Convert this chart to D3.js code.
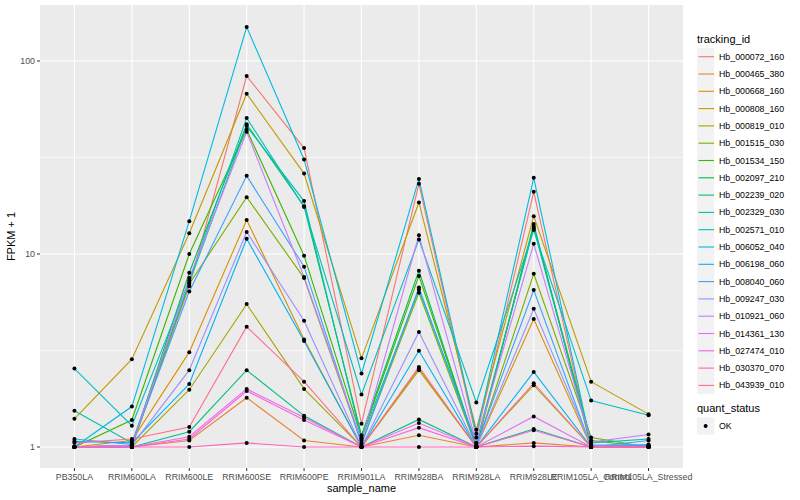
<!DOCTYPE html>
<html><head><meta charset="utf-8">
<script src="https://cdn.jsdelivr.net/npm/d3@7"></script>
<style>body{margin:0;background:#fff}svg{display:block;font-family:"Liberation Sans",Arial,sans-serif}</style>
</head><body><svg id="c" width="800" height="500"></svg>
<script>
const categories = ["PB350LA","RRIM600LA","RRIM600LE","RRIM600SE","RRIM600PE","RRIM901LA","RRIM928BA","RRIM928LA","RRIM928LE","RRIM105LA_Control","RRIM105LA_Stressed"];
const trackingIds = ["Hb_000072_160","Hb_000465_380","Hb_000668_160","Hb_000808_160","Hb_000819_010","Hb_001515_030","Hb_001534_150","Hb_002097_210","Hb_002239_020","Hb_002329_030","Hb_002571_010","Hb_006052_040","Hb_006198_060","Hb_008040_060","Hb_009247_030","Hb_010921_060","Hb_014361_130","Hb_027474_010","Hb_030370_070","Hb_043939_010"];
const colors = ["#F8766D","#EA8331","#D89000","#C09B00","#A3A500","#7CAE00","#39B600","#00BB4E","#00BF7D","#00C1A3","#00BFC4","#00BAE0","#00B0F6","#35A2FF","#9590FF","#C77CFF","#E76BF3","#FA62DB","#FF62BC","#FF6C91"];
// FPKM + 1 per series, in category order
const s01 = [1.00,1.02,6.8,83.6,35.4,1.32,23.1,1.12,21.0,1.00,1.00];
const s02 = [1.00,1.00,1.08,1.8,1.08,1.00,1.15,1.00,1.05,1.00,1.00];
const s03 = [1.00,1.08,3.1,15.0,3.61,1.00,2.56,1.00,4.6,1.00,1.00];
const s04 = [1.40,2.85,12.8,67.7,26.1,2.88,18.5,1.23,15.7,2.18,1.48];
const s05 = [1.00,1.00,1.98,5.5,2.0,1.00,2.50,1.00,2.09,1.00,1.00];
const s06 = [1.00,1.00,7.0,19.7,7.5,1.05,6.3,1.00,7.9,1.12,1.00];
const s07 = [1.00,1.38,10.0,44.0,9.8,1.12,7.7,1.00,13.9,1.08,1.00];
const s08 = [1.00,1.02,8.0,47.0,17.7,1.15,8.2,1.00,14.3,1.00,1.02];
const s09 = [1.00,1.00,1.2,2.5,1.45,1.00,1.39,1.00,1.24,1.00,1.00];
const s10 = [1.54,1.05,7.1,46.0,18.8,1.10,6.55,1.05,13.6,1.05,1.10];
const s11 = [2.55,1.29,7.3,50.7,17.5,1.87,11.9,1.70,13.3,1.74,1.46];
const s12 = [1.00,1.62,14.8,150,30.9,2.40,24.5,1.17,24.8,1.02,1.02];
const s13 = [1.07,1.05,2.12,12.0,3.54,1.00,3.15,1.00,2.45,1.00,1.00];
const s14 = [1.10,1.03,6.4,25.4,8.6,1.03,6.7,1.02,6.5,1.00,1.08];
const s15 = [1.00,1.02,2.5,13.0,4.51,1.00,3.94,1.00,5.2,1.02,1.03];
const s16 = [1.00,1.02,7.5,43.0,7.6,1.08,12.5,1.05,11.3,1.06,1.16];
const s17 = [1.00,1.00,1.13,2.0,1.42,1.00,1.33,1.00,1.44,1.00,1.00];
const s18 = [1.00,1.00,1.10,1.95,1.38,1.00,1.26,1.00,1.22,1.00,1.00];
const s19 = [1.00,1.00,1.00,1.05,1.00,1.00,1.00,1.00,1.01,1.00,1.00];
const s20 = [1.05,1.10,1.27,4.2,2.18,1.00,2.6,1.00,2.14,1.00,1.00];
const seriesValues = [s01,s02,s03,s04,s05,s06,s07,s08,s09,s10,s11,s12,s13,s14,s15,s16,s17,s18,s19,s20];
const yTicks = [1,10,100];
const yMinor = [Math.sqrt(10), Math.sqrt(1000)];
const quantStatus = ["OK"];

const svg = d3.select("#c");
const P = {l:40, r:683, t:5, b:468};
const x = d3.scalePoint().domain(categories).range([P.l,P.r]).padding(0.6);
const y = d3.scaleLog().domain([1,100]).range([447,61]);

svg.append("rect").attr("x",P.l).attr("y",P.t).attr("width",P.r-P.l).attr("height",P.b-P.t).attr("fill","#EBEBEB");
const g = svg.append("g");
g.selectAll(".mi").data(yMinor).join("line").attr("x1",P.l).attr("x2",P.r)
  .attr("y1",d=>y(d)).attr("y2",d=>y(d)).attr("stroke","#fff").attr("stroke-width",0.55);
g.selectAll(".ma").data(yTicks).join("line").attr("x1",P.l).attr("x2",P.r)
  .attr("y1",d=>y(d)).attr("y2",d=>y(d)).attr("stroke","#fff").attr("stroke-width",1.1);
g.selectAll(".vx").data(categories).join("line").attr("y1",P.t).attr("y2",P.b)
  .attr("x1",d=>x(d)).attr("x2",d=>x(d)).attr("stroke","#fff").attr("stroke-width",1.1);

const line = d3.line().x((d,i)=>x(categories[i])).y(d=>y(d));
seriesValues.forEach((vals,k)=>{
  svg.append("path").attr("d",line(vals)).attr("fill","none").attr("stroke",colors[k]).attr("stroke-width",1.1);
});
seriesValues.forEach((vals,k)=>{
  svg.append("g").selectAll("circle").data(vals).join("circle")
    .attr("cx",(d,i)=>x(categories[i])).attr("cy",d=>y(d)).attr("r",2).attr("fill","#000");
});

// y axis
const ya = svg.append("g");
yTicks.forEach(t=>{
  ya.append("line").attr("x1",P.l-3).attr("x2",P.l).attr("y1",y(t)).attr("y2",y(t)).attr("stroke","#333").attr("stroke-width",1);
  ya.append("text").attr("x",P.l-5).attr("y",y(t)).attr("dy","0.35em").attr("text-anchor","end")
    .attr("font-size",8.8).attr("fill","#4D4D4D").text(d3.format("d")(t));
});
categories.forEach(c=>{
  svg.append("line").attr("x1",x(c)).attr("x2",x(c)).attr("y1",P.b).attr("y2",P.b+3).attr("stroke","#333");
  svg.append("text").attr("x",x(c)).attr("y",P.b+12).attr("text-anchor","middle")
    .attr("font-size",8.8).attr("fill","#4D4D4D").text(c);
});
svg.append("text").attr("x",(P.l+P.r)/2).attr("y",492).attr("text-anchor","middle").attr("font-size",11).attr("fill","#000").text("sample_name");
svg.append("text").attr("transform",`translate(15,${(P.t+P.b)/2}) rotate(-90)`).attr("text-anchor","middle").attr("font-size",11).attr("fill","#000").text("FPKM + 1");

// legend
const L = svg.append("g");
L.append("text").attr("x",697).attr("y",43).attr("font-size",11).text("tracking_id");
trackingIds.forEach((id,k)=>{
  const cy = 56.7 + k*17.3;
  L.append("rect").attr("x",697).attr("y",cy-8.6).attr("width",17.3).attr("height",17.3).attr("fill","#F2F2F2");
  L.append("line").attr("x1",698.5).attr("x2",714).attr("y1",cy).attr("y2",cy).attr("stroke",colors[k]).attr("stroke-width",1.1);
  L.append("text").attr("x",719).attr("y",cy).attr("dy","0.35em").attr("font-size",8.8).attr("fill","#000").text(id);
});
L.append("text").attr("x",697).attr("y",412).attr("font-size",11).text("quant_status");
quantStatus.forEach((q,k)=>{
  const cy = 426 + k*17.3;
  L.append("rect").attr("x",697).attr("y",cy-8.6).attr("width",17.3).attr("height",17.3).attr("fill","#F2F2F2");
  L.append("circle").attr("cx",705.6).attr("cy",cy).attr("r",2).attr("fill","#000");
  L.append("text").attr("x",719).attr("y",cy).attr("dy","0.35em").attr("font-size",8.8).text(q);
});
</script></body></html>
